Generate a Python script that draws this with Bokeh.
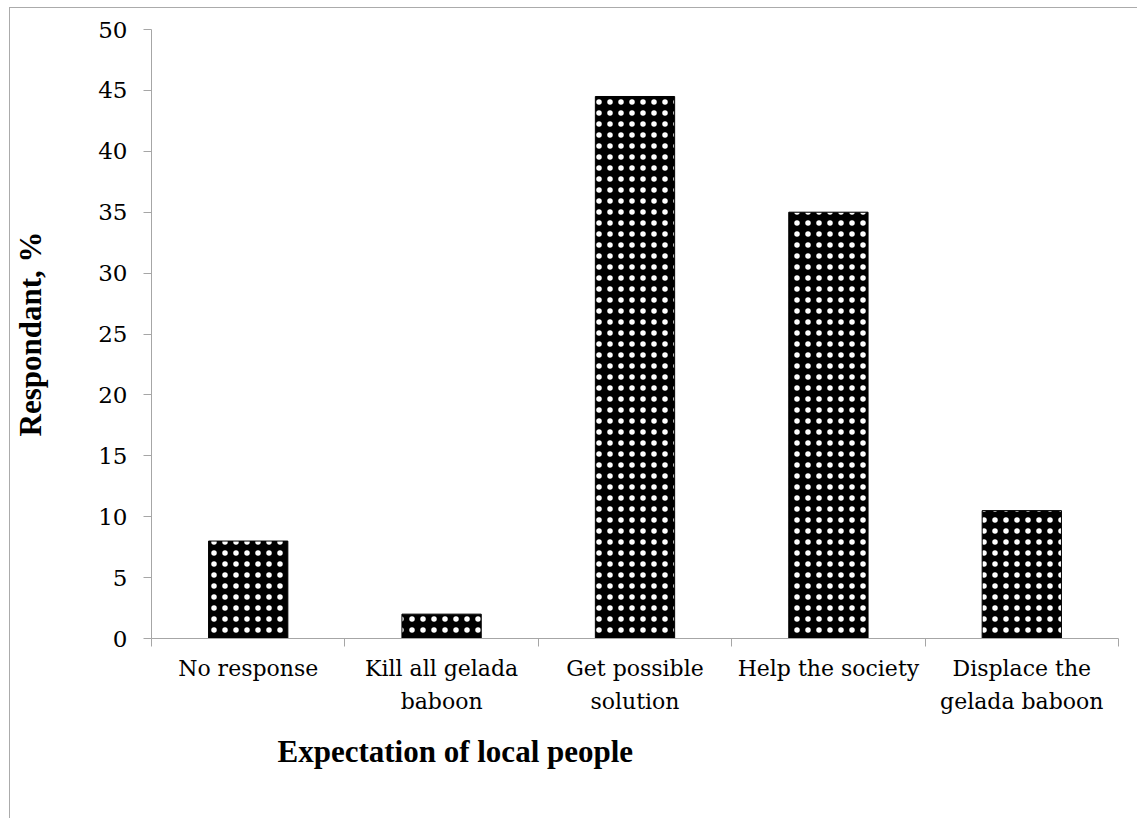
from bokeh.plotting import figure
from bokeh.models import FixedTicker, Range1d, Title
from bokeh.embed import file_html
from bokeh.resources import INLINE

categories = ["No response", "Kill all gelada\nbaboon", "Get possible\nsolution",
              "Help the society", "Displace the\ngelada baboon"]
respondents_pct = [8, 2, 44.5, 35, 10.5]
y_ticks = [0, 5, 10, 15, 20, 25, 30, 35, 40, 45, 50]

FONT = "Liberation Serif"
TICK_FONT = "DejaVu Serif"
AXIS_GREY = "#a6a6a6"

centers = [i + 0.5 for i in range(len(categories))]
bounds = list(range(len(categories) + 1))

p = figure(width=1128, height=811, output_backend="svg", toolbar_location=None,
           x_range=Range1d(0, len(categories)), y_range=Range1d(0, 50),
           min_border_left=136, min_border_right=20, min_border_top=21,
           min_border_bottom=181)
p.styles = {"position": "absolute", "left": "9px", "top": "7px",
            "border-left": "1px solid #ababab", "border-top": "1px solid #ababab"}
p.outline_line_color = None
p.grid.visible = False

p.vbar(x=centers, top=respondents_pct, width=0.41, fill_color="black",
       line_color="black", line_width=1,
       hatch_pattern=".", hatch_color="white", hatch_scale=11, hatch_weight=0.3)

# x axis: category names at bar centres, ticks at category boundaries
xa = p.xaxis[0]
xa.ticker = FixedTicker(ticks=centers, minor_ticks=bounds)
xa.major_label_overrides = {c: name for c, name in zip(centers, categories)}
xa.major_tick_line_color = None
xa.minor_tick_line_color = AXIS_GREY
xa.minor_tick_in = 0
xa.minor_tick_out = 8
xa.axis_line_color = AXIS_GREY
xa.major_label_standoff = 9
xa.major_label_text_font = TICK_FONT
xa.major_label_text_font_size = "22px"
xa.major_label_text_color = "black"
xa.major_label_text_line_height = 1.35

ya = p.yaxis[0]
ya.ticker = FixedTicker(ticks=y_ticks)
ya.minor_tick_line_color = None
ya.major_tick_in = 0
ya.major_tick_out = 8
ya.major_tick_line_color = AXIS_GREY
ya.axis_line_color = AXIS_GREY
ya.major_label_standoff = 16
ya.major_label_text_font = TICK_FONT
ya.major_label_text_font_size = "23px"
ya.major_label_text_color = "black"
ya.axis_label = "Respondant, %"
ya.axis_label_text_font = FONT
ya.axis_label_text_font_size = "31px"
ya.axis_label_text_font_style = "bold"
ya.axis_label_text_color = "black"
ya.axis_label_standoff = 47

p.add_layout(Title(text="Expectation of local people", align="left", offset=126,
                   text_font=FONT, text_font_size="31px", text_font_style="bold",
                   text_color="black", standoff=29), "below")

open("out.html", "w").write(file_html(p, INLINE))
